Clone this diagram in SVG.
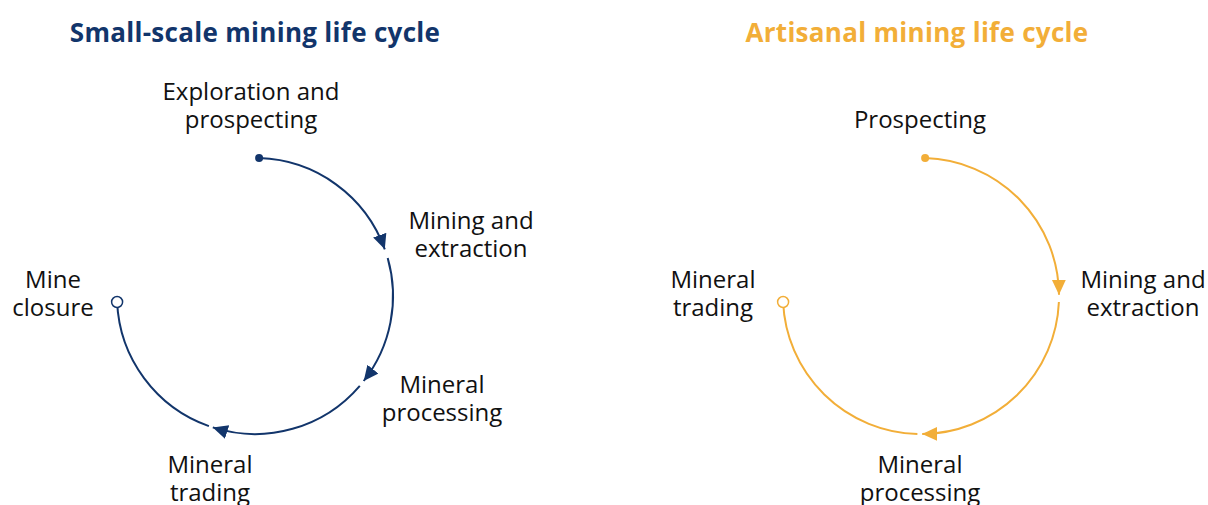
<svg xmlns="http://www.w3.org/2000/svg" width="1208" height="505" viewBox="0 0 1208 505">
<style>
.lbl{font-family:"Open Sans","Liberation Sans",sans-serif;font-size:24px;fill:#111111;text-anchor:middle}
.ttl{font-family:"Open Sans","Liberation Sans",sans-serif;font-size:26px;font-weight:700;text-anchor:middle;letter-spacing:0.3px}
.navy{stroke:#12356b;fill:none;stroke-width:2}
.gold{stroke:#f2ae38;fill:none;stroke-width:2}
</style>
<defs>
<marker id="an" markerUnits="userSpaceOnUse" markerWidth="16" markerHeight="16" refX="15" refY="7" orient="auto"><path d="M0,0 L15,7 L0,14 z" fill="#12356b"/></marker>
<marker id="ag" markerUnits="userSpaceOnUse" markerWidth="16" markerHeight="16" refX="15" refY="7" orient="auto"><path d="M0,0 L15,7 L0,14 z" fill="#f2ae38"/></marker>
</defs>
<rect width="1208" height="505" fill="#ffffff"/>
<text class="ttl" x="255" y="42" fill="#12356b">Small-scale mining life cycle</text>
<text class="ttl" x="917" y="42" fill="#f2ae38">Artisanal mining life cycle</text>
<g id="connectors">
<path class="navy" d="M259.1,158.1 A138,138 0 0 1 384.8,249.3" marker-end="url(#an)"/>
<path class="navy" d="M387.7,258 A138,138 0 0 1 363.7,381" marker-end="url(#an)"/>
<path class="navy" d="M359.8,385.8 A138,138 0 0 1 212.8,427.4" marker-end="url(#an)"/>
<path class="navy" d="M208.9,426.1 A138,138 0 0 1 117.1,302"/>
<circle cx="259.1" cy="158.1" r="4" fill="#12356b"/>
<circle cx="117.1" cy="302" r="5.5" fill="#ffffff" stroke="#12356b" stroke-width="1.5"/>
<path class="gold" d="M925.1,158.1 A138,138 0 0 1 1059,294.8" marker-end="url(#ag)"/>
<path class="gold" d="M1058.9,302 A138,138 0 0 1 922.2,434" marker-end="url(#ag)"/>
<path class="gold" d="M917.4,434 A138,138 0 0 1 783.1,302"/>
<circle cx="925.1" cy="158.1" r="4" fill="#f2ae38"/>
<circle cx="783.1" cy="302" r="5.5" fill="#ffffff" stroke="#f2ae38" stroke-width="1.5"/>
</g>
<g id="ss-exploration"><text class="lbl" x="251" y="100">Exploration and</text><text class="lbl" x="251" y="128">prospecting</text></g>
<g id="ss-mining"><text class="lbl" x="471" y="229">Mining and</text><text class="lbl" x="471" y="257">extraction</text></g>
<g id="ss-processing"><text class="lbl" x="442" y="393">Mineral</text><text class="lbl" x="442" y="421">processing</text></g>
<g id="ss-trading"><text class="lbl" x="210" y="473">Mineral</text><text class="lbl" x="210" y="501">trading</text></g>
<g id="ss-closure"><text class="lbl" x="53" y="288">Mine</text><text class="lbl" x="53" y="316">closure</text></g>
<g id="am-prospecting"><text class="lbl" x="920" y="128">Prospecting</text></g>
<g id="am-mining"><text class="lbl" x="1143" y="288">Mining and</text><text class="lbl" x="1143" y="316">extraction</text></g>
<g id="am-processing"><text class="lbl" x="920" y="473">Mineral</text><text class="lbl" x="920" y="501">processing</text></g>
<g id="am-trading"><text class="lbl" x="713" y="288">Mineral</text><text class="lbl" x="713" y="316">trading</text></g>
</svg>
